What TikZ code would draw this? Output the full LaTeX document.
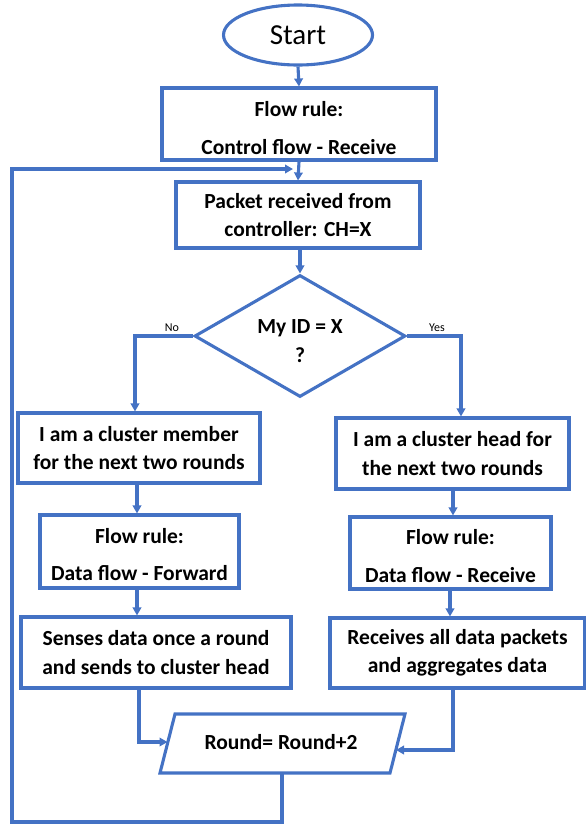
\documentclass[tikz,border=0pt]{standalone}
\usepackage{fontspec}
\setmainfont{Carlito}
\usetikzlibrary{arrows.meta,shapes.geometric}
\definecolor{flowblue}{RGB}{68,114,196}
\begin{document}
\begin{tikzpicture}[x=1pt,y=-1pt,
  line width=3.1pt,
  txt/.style={inner sep=0pt,align=center,font=\fontsize{21.5}{28.5}\selectfont\bfseries},
  boxstyle/.style={draw=flowblue,fill=white,rectangle,inner sep=0pt,txt},
  startstyle/.style={draw=flowblue,ellipse,inner sep=0pt,minimum width=149pt,minimum height=60pt,
    font=\fontsize{29}{30}\selectfont},
  diastyle/.style={draw=flowblue,diamond,inner sep=0pt,minimum width=211pt,minimum height=122pt},
  arr/.style={draw=flowblue,-{Triangle[length=8pt,width=8.5pt]}},
  ln/.style={draw=flowblue},
  lbl/.style={font=\fontsize{12}{12}\selectfont,inner sep=0pt}]
\useasboundingbox (0,0) rectangle (586,825);

% shapes
\node[startstyle] (start) at (298,35) {Start};
\node[boxstyle,minimum width=274pt,minimum height=72pt] (flowA) at (299,124) {};
\node[txt] (flowAtext) at ([yshift=-4pt]flowA.center) {Flow rule:\\[9pt]Control flow - Receive};
\node[boxstyle,minimum width=244pt,minimum height=66pt] (packet) at (298,215)
  {Packet received from\\controller: CH=X};
\node[diastyle] (dec) at (300,336) {};
\node[txt] (dectext) at (300,341) {My ID = X\\?};
\node[boxstyle,minimum width=242pt,minimum height=70pt] (member) at (139,448)
  {I am a cluster member\\for the next two rounds};
\node[boxstyle,minimum width=233pt,minimum height=71pt] (head) at (452.5,453.5)
  {I am a cluster head for\\the next two rounds};
\node[boxstyle,minimum width=199pt,minimum height=73pt] (flowL) at (139.5,551.5) {};
\node[txt] (flowLtext) at ([yshift=-3pt]flowL.center) {Flow rule:\\[8pt]Data flow - Forward};
\node[boxstyle,minimum width=201pt,minimum height=72pt] (flowR) at (450.5,553) {};
\node[txt] (flowRtext) at ([yshift=-3pt]flowR.center) {Flow rule:\\[9pt]Data flow - Receive};
\node[boxstyle,minimum width=270pt,minimum height=71pt] (sense) at (156,652.5)
  {Senses data once a round\\and sends to cluster head};
\node[boxstyle,minimum width=255pt,minimum height=70pt] (aggr) at (457.5,653)
  {Receives all data packets\\and aggregates data};

% round update (parallelogram)
\draw[ln,fill=white,line join=miter] (175,714) -- (405,714) -- (390,773) -- (160,773) -- cycle;
\node[txt] (round) at (281,742) {Round= Round+2};
\coordinate (roundW) at (167.5,742);
\coordinate (roundE) at (396,750);
\coordinate (roundS) at (282,773);

% branch labels
\node[lbl] (no) at (172,328) {No};
\node[lbl] (yes) at (437,328) {Yes};

% column guides
\coordinate (colL) at (137,0);
\coordinate (colNo) at (135,0);
\coordinate (colYes) at (461,0);
\coordinate (colR1) at (453,0);
\coordinate (colR2) at (450,0);
\coordinate (colS) at (139,0);
\coordinate (loopX) at (12,0);
\coordinate (loopY) at (0,169);
\coordinate (loopB) at (0,822);

% connectors
\draw[arr] (start.south) -- (flowA.north);
\draw[arr] (flowA.south) -- (packet.north);
\draw[arr] (packet.south -| dec.north) -- (dec.north);
\draw[arr] (dec.west) -- (dec.west -| colNo) -- (member.north -| colNo);
\draw[arr] (dec.east) -- (dec.east -| colYes) -- (head.north -| colYes);
\draw[arr] (member.south -| colL) -- (flowL.north -| colL);
\draw[arr] (flowL.south -| colL) -- (sense.north -| colL);
\draw[arr] (head.south -| colR1) -- (flowR.north -| colR1);
\draw[arr] (flowR.south -| colR2) -- (aggr.north -| colR2);
\draw[arr] (sense.south -| colS) -- (roundW -| colS) -- (roundW);
\draw[arr] (aggr.south -| colR1) -- (roundE -| colR1) -- (roundE);
\draw[arr] (roundS) -- (roundS |- loopB) -- (loopX |- loopB) -- (loopX |- loopY)
  -- ([xshift=-5pt]loopY -| packet.north);
\end{tikzpicture}
\end{document}
